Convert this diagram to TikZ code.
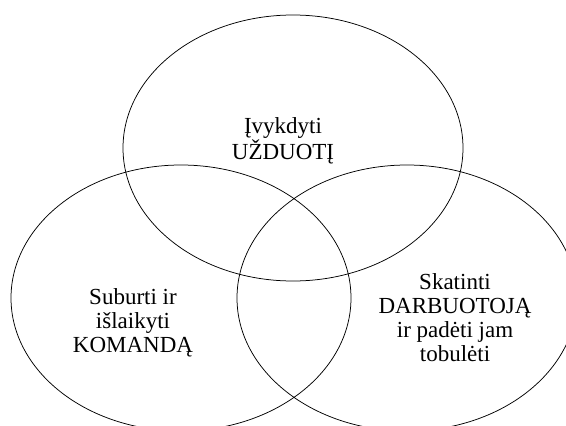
\documentclass[tikz,border=0pt]{standalone}
\usepackage{fontspec}
\setmainfont{Liberation Serif}
\begin{document}
\begin{tikzpicture}[x=1pt,y=-1pt,
  ring/.style={draw=black,line width=0.75pt},
  lbl/.style={align=center,inner sep=0pt,font=\fontsize{23}{24}\selectfont}]
\useasboundingbox (0,0) rectangle (566,426);
\clip (0,0) rectangle (566,426);
\fill[white] (0,0) rectangle (566,426);
\coordinate (ctop) at (293,148);
\coordinate (cleft) at (181,298);
\coordinate (cright) at (407,298);
\draw[ring] (ctop) ellipse [x radius=170pt, y radius=133pt];
\draw[ring] (cleft) ellipse [x radius=170pt, y radius=133pt];
\draw[ring] (cright) ellipse [x radius=170pt, y radius=133pt];
\node[lbl] (task) at (283,141) {Įvykdyti\\UŽDUOTĮ};
\node[lbl] (team) at (133,323) {Suburti ir\\išlaikyti\\KOMANDĄ};
\node[lbl] (worker) at (455,318) {Skatinti\\DARBUOTOJĄ\\ir padėti jam\\tobulėti};
\end{tikzpicture}
\end{document}
